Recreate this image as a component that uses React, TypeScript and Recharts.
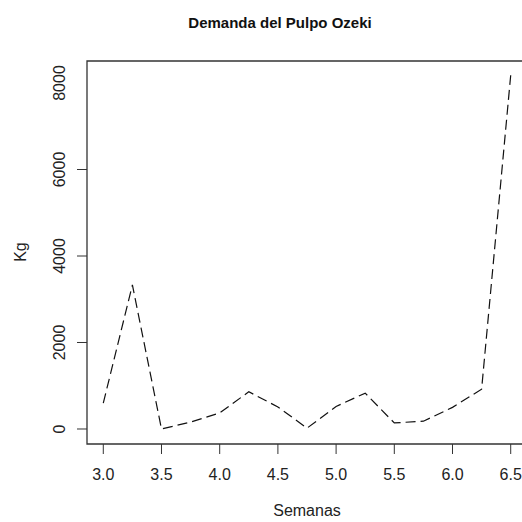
import React from "react";
import { LineChart, Line, XAxis, YAxis, ReferenceArea } from "recharts";

const weeks = [3.0, 3.25, 3.5, 3.75, 4.0, 4.25, 4.5, 4.75, 5.0, 5.25, 5.5, 5.75, 6.0, 6.25, 6.5];
const kg = [600, 3330, 0, 160, 370, 860, 510, 20, 520, 830, 140, 180, 500, 920, 8180];
const xTicks = [3.0, 3.5, 4.0, 4.5, 5.0, 5.5, 6.0, 6.5];
const yTicks = [0, 2000, 4000, 6000, 8000];

const data = weeks.map((w, i) => ({ w, kg: kg[i] }));

const FONT = '"Liberation Sans", Arial, Helvetica, sans-serif';
const AX = "#333";

const XTick = (props: any) => {
  const { x, y, payload } = props;
  return (
    <g>
      <line x1={x} x2={x} y1={y - 10} y2={y} stroke={AX} strokeWidth={1} />
      <text x={x} y={y + 26} textAnchor="middle" fontSize={16} fontFamily={FONT} fill="#222">
        {Number(payload.value).toFixed(1)}
      </text>
    </g>
  );
};

const YTick = (props: any) => {
  const { x, y, payload } = props;
  const tx = 65;
  return (
    <g>
      {payload.value !== 8000 && (
        <line x1={x} x2={x + 10} y1={y} y2={y} stroke={AX} strokeWidth={1} />
      )}
      <text
        x={tx}
        y={y}
        transform={`rotate(-90, ${tx}, ${y})`}
        textAnchor="middle"
        fontSize={16}
        fontFamily={FONT}
        fill="#222"
      >
        {payload.value}
      </text>
    </g>
  );
};

export default function App() {
  return (
    <div style={{ position: "absolute", left: 0, top: 0, width: 522, height: 522, overflow: "hidden", background: "#fff" }}>
      <LineChart width={540} height={522} data={data} margin={{ top: 61, right: 13, bottom: 0, left: 0 }}>
        <XAxis
          dataKey="w"
          type="number"
          domain={[2.86, 6.64]}
          ticks={xTicks}
          allowDataOverflow
          axisLine={false}
          tickLine={false}
          tickSize={10}
          tickMargin={0}
          height={78}
          interval={0}
          tick={<XTick />}
        />
        <YAxis
          type="number"
          domain={[-347, 8509]}
          ticks={yTicks}
          allowDataOverflow
          axisLine={false}
          tickLine={false}
          tickSize={10}
          tickMargin={0}
          width={87}
          interval={0}
          tick={<YTick />}
        />
        <ReferenceArea
          x1={2.86}
          x2={6.64}
          y1={-347}
          y2={8509}
          fill="none"
          fillOpacity={0}
          stroke={AX}
          strokeWidth={1.3}
          ifOverflow="visible"
        />
        <Line
          dataKey="kg"
          stroke="#111"
          strokeWidth={1.2}
          strokeDasharray="10 5"
          dot={false}
          isAnimationActive={false}
        />
      </LineChart>
      <svg width={522} height={522} style={{ position: "absolute", left: 0, top: 0, pointerEvents: "none" }}>
        <text x={280} y={28} textAnchor="middle" fontSize={15} fontWeight="bold" fontFamily={FONT} fill="#111">
          Demanda del Pulpo Ozeki
        </text>
        <text x={307} y={516} textAnchor="middle" fontSize={16} fontFamily={FONT} fill="#222">
          Semanas
        </text>
        <text
          x={26}
          y={252}
          transform="rotate(-90, 26, 252)"
          textAnchor="middle"
          fontSize={16}
          fontFamily={FONT}
          fill="#222"
        >
          Kg
        </text>
      </svg>
    </div>
  );
}
